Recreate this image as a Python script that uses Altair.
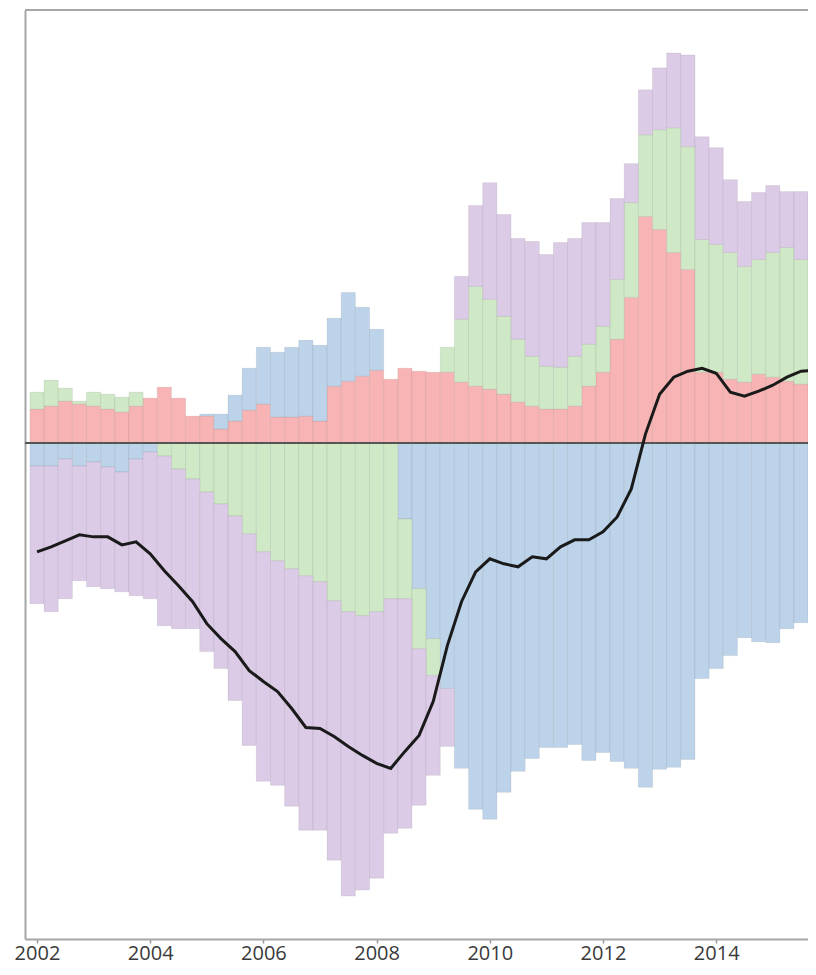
import altair as alt
import pandas as pd

# quarterly periods 2002Q1 .. 2015Q4
years = list(range(2002, 2016))
quarter_nums = [1, 2, 3, 4]

series_names = ["Series A", "Series B", "Series C", "Series D"]
series_colors = ["#f8b4b4", "#bcd3ea", "#cfe8c6", "#dbcbe7"]

red = [1.36, 1.48, 1.68, 1.56, 1.48, 1.36, 1.24, 1.48, 1.80, 2.24, 1.80, 1.08,
       1.08, 0.56, 0.88, 1.32, 1.56, 1.04, 1.04, 1.08, 0.88, 2.28, 2.48, 2.68,
       2.92, 2.56, 3.00, 2.88, 2.84, 2.84, 2.44, 2.28, 2.16, 1.96, 1.64, 1.48,
       1.36, 1.36, 1.48, 2.28, 2.84, 4.16, 5.84, 9.08, 8.56, 7.64, 6.96, 2.84,
       2.84, 2.56, 2.44, 2.76, 2.64, 2.48, 2.36, 2.24]

blue = [-0.92, -0.92, -0.64, -0.92, -0.76, -0.96, -1.16, -0.64, -0.36, 0.0, 0.0, 0.0,
        0.08, 0.60, 1.04, 1.68, 2.28, 2.60, 2.80, 3.04, 3.04, 2.72, 3.56, 2.76,
        1.64, 0.0, -3.04, -5.84, -7.84, -9.84, -13.04, -14.68, -15.08, -14.00, -13.16, -12.64,
        -12.20, -12.20, -12.08, -12.72, -12.40, -12.76, -13.04, -13.80, -13.08, -13.00, -12.68, -9.44,
        -9.04, -8.52, -7.80, -7.96, -8.00, -7.44, -7.20, -6.96]

green = [0.68, 1.04, 0.52, 0.12, 0.56, 0.60, 0.60, 0.56, 0.0, -0.52, -1.04, -1.44,
         -1.96, -2.44, -2.92, -3.64, -4.36, -4.72, -5.04, -5.32, -5.56, -6.32, -6.76, -6.92,
         -6.76, -6.24, -3.20, -2.40, -1.48, 1.00, 2.52, 4.00, 3.60, 3.12, 2.52, 2.00,
         1.72, 1.68, 2.00, 1.68, 1.84, 2.40, 3.80, 3.28, 4.00, 5.00, 4.92, 5.32,
         5.12, 5.08, 4.64, 4.60, 5.00, 5.36, 5.00, 4.60]

purple = [-5.52, -5.84, -5.60, -4.60, -5.00, -4.88, -4.80, -5.48, -5.88, -6.80, -6.40, -6.00,
          -6.40, -6.60, -7.40, -8.48, -9.20, -9.00, -9.52, -10.20, -9.96, -10.40, -11.40, -11.00,
          -10.68, -9.40, -9.20, -6.28, -4.00, -2.32, 1.72, 3.24, 4.68, 4.08, 4.04, 4.60,
          4.48, 5.00, 4.72, 4.88, 4.16, 3.24, 1.56, 1.80, 2.48, 3.00, 3.68, 4.12,
          3.88, 2.92, 2.60, 2.68, 2.68, 2.24, 2.72, 3.04]

net = [-4.36, -4.16, -3.92, -3.68, -3.76, -3.76, -4.08, -3.96, -4.44, -5.12, -5.72, -6.36,
       -7.24, -7.84, -8.36, -9.12, -9.56, -9.96, -10.64, -11.40, -11.44, -11.76, -12.16, -12.52,
       -12.84, -13.04, -12.36, -11.72, -10.36, -8.12, -6.36, -5.16, -4.64, -4.84, -4.96, -4.56,
       -4.64, -4.16, -3.88, -3.88, -3.56, -2.96, -1.84, 0.36, 1.96, 2.64, 2.88, 3.00,
       2.80, 2.04, 1.88, 2.08, 2.32, 2.64, 2.88, 2.92]

tick_years = [2002, 2004, 2006, 2008, 2010, 2012, 2014]

periods = [(y, q) for y in years for q in quarter_nums]
t_vals = [y + (q - 1) / 4 for (y, q) in periods]

rows = []
for order, (name, vals) in enumerate(zip(series_names, [red, blue, green, purple])):
    for t, v in zip(t_vals, vals):
        rows.append({"t": t, "series": name, "order": order, "value": v})
df_bars = pd.DataFrame(rows)
df_line = pd.DataFrame({"t": t_vals, "net": net})
df_zero = pd.DataFrame({"z": [0.0]})

frame_color = "#a6a6a6"

x_scale = alt.Scale(domain=[2001.788, 2015.622], nice=False, zero=False)
y_scale = alt.Scale(domain=[-19.88, 17.36], nice=False, zero=False)

x_axis = alt.Axis(values=tick_years, format="d", title=None, domain=True,
                  domainColor=frame_color, domainWidth=2,
                  grid=False, tickSize=4, tickColor="#999999", tickWidth=1.5,
                  labelFont="Open Sans", labelFontSize=20, labelColor="#3a3a3a",
                  labelPadding=0)
y_axis = alt.Axis(title=None, domain=True, domainColor=frame_color, domainWidth=2,
                  ticks=False, labels=False, grid=False)

bars = alt.Chart(df_bars).transform_filter(
    "datum.value != 0"
).transform_stack(
    stack="value", groupby=["t"], as_=["y0", "y1"],
    sort=[alt.SortField("order", order="ascending")], offset="zero"
).transform_calculate(
    x0="datum.t - 0.125", x1="datum.t + 0.125"
).mark_bar(clip=True, stroke="#000000", strokeOpacity=0.07, strokeWidth=1).encode(
    x=alt.X("x0:Q", scale=x_scale, axis=x_axis),
    x2="x1:Q",
    y=alt.Y("y0:Q", scale=y_scale, axis=y_axis),
    y2="y1:Q",
    color=alt.Color("series:N", scale=alt.Scale(domain=series_names, range=series_colors),
                    legend=None),
)

zero = alt.Chart(df_zero).mark_rule(color="#555555", strokeWidth=2).encode(
    y=alt.Y("z:Q", scale=y_scale, axis=y_axis)
)

top_border = alt.Chart(df_zero).mark_rule(color=frame_color, strokeWidth=2).encode(
    y=alt.value(0)
)

line = alt.Chart(df_line).mark_line(color="#1a1a1a", strokeWidth=3, clip=True).encode(
    x=alt.X("t:Q", scale=x_scale, axis=x_axis),
    y=alt.Y("net:Q", scale=y_scale, axis=y_axis),
)

chart = alt.layer(bars, zero, line, top_border).properties(
    width=783, height=929,
    autosize=alt.AutoSizeParams(type="none"),
    padding={"left": 17, "top": 2, "right": 0, "bottom": 28},
).configure_view(stroke=None)

chart.save("out.html", embed_options={"renderer": "svg", "actions": False})
